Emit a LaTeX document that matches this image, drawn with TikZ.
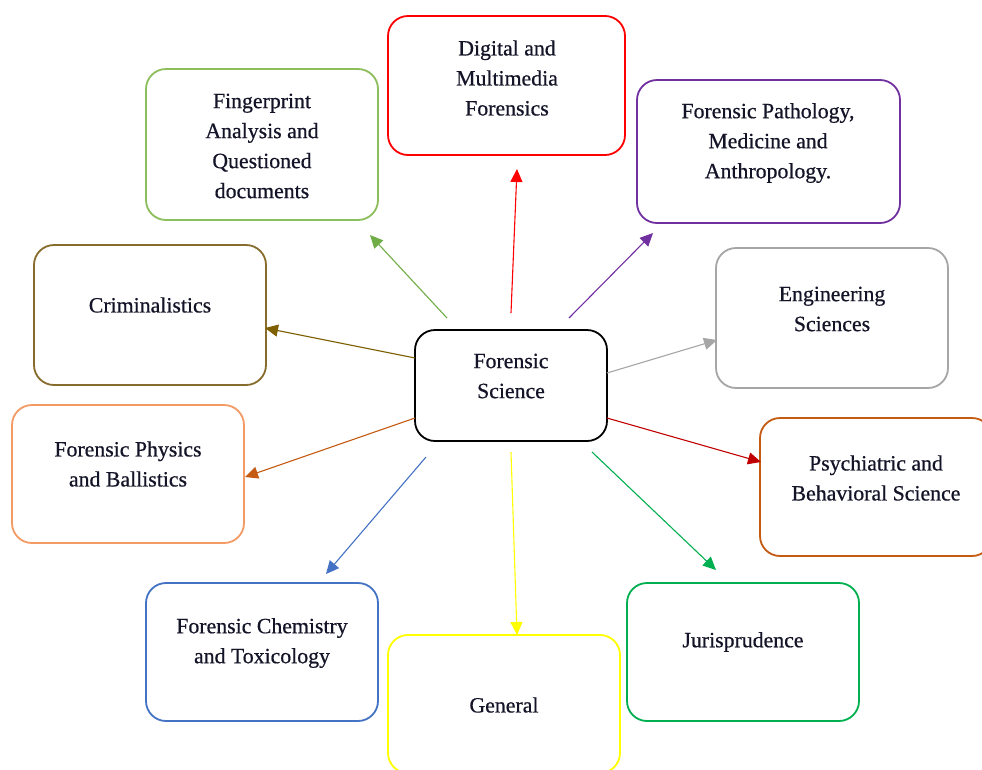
\documentclass[tikz,border=0pt]{standalone}
\usepackage{fontspec}
\setmainfont{Liberation Serif}[FakeBold=0.6]
\usetikzlibrary{arrows.meta}
\definecolor{cRed}{RGB}{255,0,0}
\definecolor{cFin}{RGB}{141,190,92}
\definecolor{cFinA}{RGB}{112,173,71}
\definecolor{cPur}{RGB}{112,48,160}
\definecolor{cCri}{RGB}{135,108,45}
\definecolor{cCriA}{RGB}{127,96,0}
\definecolor{cGry}{RGB}{166,166,166}
\definecolor{cPhy}{RGB}{244,155,100}
\definecolor{cPhyA}{RGB}{197,90,17}
\definecolor{cPsy}{RGB}{197,90,17}
\definecolor{cPsyA}{RGB}{192,0,0}
\definecolor{cBlu}{RGB}{68,114,196}
\definecolor{cYel}{RGB}{255,255,0}
\definecolor{cJur}{RGB}{0,176,80}
\definecolor{cTxt}{RGB}{20,20,40}
\begin{document}
\begin{tikzpicture}[x=1pt,y=-1pt,
  box/.style={draw, line width=1.8pt, rounded corners=20pt, minimum width=232pt, minimum height=138pt, inner sep=0pt, fill=white},
  lbl/.style={align=center, text=cTxt, font=\fontsize{21.8}{30}\selectfont, inner sep=0pt},
  arr/.style={line width=1.1pt, -{Triangle[length=13pt,width=12pt]}}]
\useasboundingbox[fill=white] (0,0) rectangle (982,769);
% boxes
\node[box, draw=cRed, minimum width=237pt, minimum height=139pt] (dig) at (506.5,85.5) {};
\node[box, draw=cFin, minimum height=151pt] (fin) at (262,144.5) {};
\node[box, draw=cPur, minimum width=263pt, minimum height=143pt] (pat) at (768.5,151.5) {};
\node[box, draw=cCri, minimum height=140pt] (cri) at (150,315) {};
\node[box, draw=cGry, minimum height=140pt] (eng) at (832,318) {};
\node[box, draw=black, minimum width=192pt, minimum height=111pt] (fs) at (511,385.5) {};
\node[box, draw=cPhy] (phy) at (128,474) {};
\node[box, draw=cPsy] (psy) at (876,487) {};
\node[box, draw=cBlu] (che) at (262,652) {};
\node[box, draw=cYel] (gen) at (504,704) {};
\node[box, draw=cJur] (jur) at (743,652) {};
% labels
\node[lbl] (digT) at (507,78) {Digital and\\Multimedia\\Forensics};
\node[lbl] (finT) at (262,146) {Fingerprint\\Analysis and\\Questioned\\documents};
\node[lbl] (patT) at (768,143) {Forensic Pathology,\\Medicine and\\Anthropology.};
\node[lbl] (criT) at (150,305) {Criminalistics};
\node[lbl] (engT) at (832,309) {Engineering\\Sciences};
\node[lbl] (fsT) at (511,376) {Forensic\\Science};
\node[lbl] (phyT) at (128,464) {Forensic Physics\\and Ballistics};
\node[lbl] (psyT) at (876,478) {Psychiatric and\\Behavioral Science};
\node[lbl] (cheT) at (262,643) {Forensic Chemistry\\and Toxicology};
\node[lbl] (genT) at (504,705) {General};
\node[lbl] (jurT) at (743,642) {Jurisprudence};
% connector end points
\coordinate (s1) at (447,318); \coordinate (e1) at (370,235);
\coordinate (s2) at (511,313); \coordinate (e2) at (517,169);
\coordinate (s3) at (569,318); \coordinate (e3) at (653,233);
\coordinate (s4) at (415,358); \coordinate (e4) at (265,328);
\coordinate (s5) at (607,373); \coordinate (e5) at (717,340);
\coordinate (s6) at (415,418); \coordinate (e6) at (245,477);
\coordinate (s7) at (607,418); \coordinate (e7) at (761,462);
\coordinate (s8) at (426,457); \coordinate (e8) at (326,574);
\coordinate (s9) at (511,452); \coordinate (e9) at (517,635);
\coordinate (s10) at (592,452); \coordinate (e10) at (716,570);
\draw[arr, cFinA] (s1) -- (e1);
\draw[arr, cRed] (s2) -- (e2);
\draw[arr, cPur] (s3) -- (e3);
\draw[arr, cCriA] (s4) -- (e4);
\draw[arr, cGry] (s5) -- (e5);
\draw[arr, cPhyA] (s6) -- (e6);
\draw[arr, cPsyA] (s7) -- (e7);
\draw[arr, cBlu] (s8) -- (e8);
\draw[arr, cYel] (s9) -- (e9);
\draw[arr, cJur] (s10) -- (e10);
\end{tikzpicture}
\end{document}
